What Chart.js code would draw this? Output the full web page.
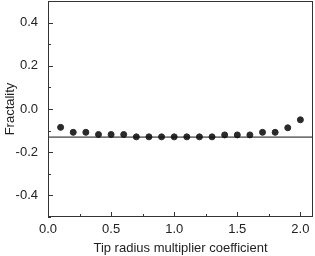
<!DOCTYPE html>
<html>
<head>
<meta charset="utf-8">
<script src="https://cdn.jsdelivr.net/npm/chart.js@4.4.1/dist/chart.umd.min.js"></script>
<style>
  html, body { margin: 0; padding: 0; background: #fff; }
  #wrap { width: 315px; height: 256px; }
</style>
</head>
<body>
<div id="wrap"><canvas id="chart"></canvas></div>
<script>
const coefficients = [0.1, 0.2, 0.3, 0.4, 0.5, 0.6, 0.7, 0.8, 0.9, 1.0,
  1.1, 1.2, 1.3, 1.4, 1.5, 1.6, 1.7, 1.8, 1.9, 2.0];
const fractality = [-0.085, -0.108, -0.108, -0.118, -0.118, -0.118, -0.129, -0.129, -0.129, -0.129,
  -0.129, -0.129, -0.129, -0.12, -0.12, -0.12, -0.108, -0.108, -0.087, -0.05];
const baseline = -0.13;
const xRange = [0, 2.1];
const xTicks = [0, 0.25, 0.5, 0.75, 1.0, 1.25, 1.5, 1.75, 2.0];
const xLabels = ['0.0', '', '0.5', '', '1.0', '', '1.5', '', '2.0'];
const yTicks = [-0.5, -0.4, -0.3, -0.2, -0.1, 0, 0.1, 0.2, 0.3, 0.4, 0.5];
const yLabels = ['', '-0.4', '', '-0.2', '', '0.0', '', '0.2', '', '0.4', ''];

const font = { family: '"Liberation Sans", Arial, sans-serif', size: 13 };
const ink = '#222';

// inward ticks + frame drawn on the library's scales
const frame = {
  id: 'frame',
  afterDraw(chart) {
    const { ctx, chartArea: a, scales } = chart;
    ctx.save();
    ctx.strokeStyle = '#333';
    ctx.lineWidth = 1;
    ctx.strokeRect(a.left + 0.5, a.top + 0.5, a.right - a.left - 1, a.bottom - a.top - 1);
    ctx.beginPath();
    scales.x.ticks.forEach((t) => {
      const px = Math.round(scales.x.getPixelForValue(t.value)) + 0.5;
      const len = t.label ? 5 : 3;
      ctx.moveTo(px, a.bottom);
      ctx.lineTo(px, a.bottom - len);
    });
    scales.y.ticks.forEach((t) => {
      const py = Math.round(scales.y.getPixelForValue(t.value)) + 0.5;
      const len = t.label ? 5 : 3;
      ctx.moveTo(a.left, py);
      ctx.lineTo(a.left + len, py);
    });
    ctx.stroke();
    ctx.restore();
  },
};

new Chart(document.querySelector('#chart'), {
  type: 'scatter',
  data: {
    datasets: [{
      type: 'line',
      data: xRange.map((x) => ({ x, y: baseline })),
      borderColor: '#111',
      borderWidth: 1,
      pointRadius: 0,
    }, {
      data: coefficients.map((x, i) => ({ x, y: fractality[i] })),
      backgroundColor: '#2a2a2a',
      borderColor: '#2a2a2a',
      pointRadius: 3,
    }],
  },
  plugins: [frame],
  options: {
    responsive: true,
    maintainAspectRatio: false,
    animation: false,
    layout: { autoPadding: false, padding: { top: 1, right: 2, left: 0, bottom: 0 } },
    plugins: { legend: { display: false }, tooltip: { enabled: false } },
    scales: {
      x: {
        type: 'linear',
        min: xRange[0],
        max: xRange[1],
        border: { display: false },
        grid: { display: false, drawTicks: false },
        afterBuildTicks: (s) => { s.ticks = xTicks.map((value) => ({ value })); },
        ticks: {
          padding: 5,
          color: ink,
          font,
          maxRotation: 0,
          autoSkip: false,
          callback: (v, i) => xLabels[i],
        },
        title: { display: true, text: 'Tip radius multiplier coefficient', color: ink, font, padding: { top: 2, bottom: 0 } },
        afterFit: (s) => { s.height = 39; s.paddingLeft = 0; s.paddingRight = 0; },
      },
      y: {
        min: -0.5,
        max: 0.5,
        border: { display: false },
        grid: { display: false, drawTicks: false },
        afterBuildTicks: (s) => { s.ticks = yTicks.map((value) => ({ value })); },
        ticks: {
          padding: 10,
          color: ink,
          font,
          autoSkip: false,
          callback: (v, i) => yLabels[i],
        },
        title: { display: true, text: 'Fractality', color: ink, font, padding: { top: 3, bottom: 2 } },
        afterFit: (s) => { s.width = 48; s.paddingTop = 0; s.paddingBottom = 0; },
      },
    },
  },
});
</script>
</body>
</html>
